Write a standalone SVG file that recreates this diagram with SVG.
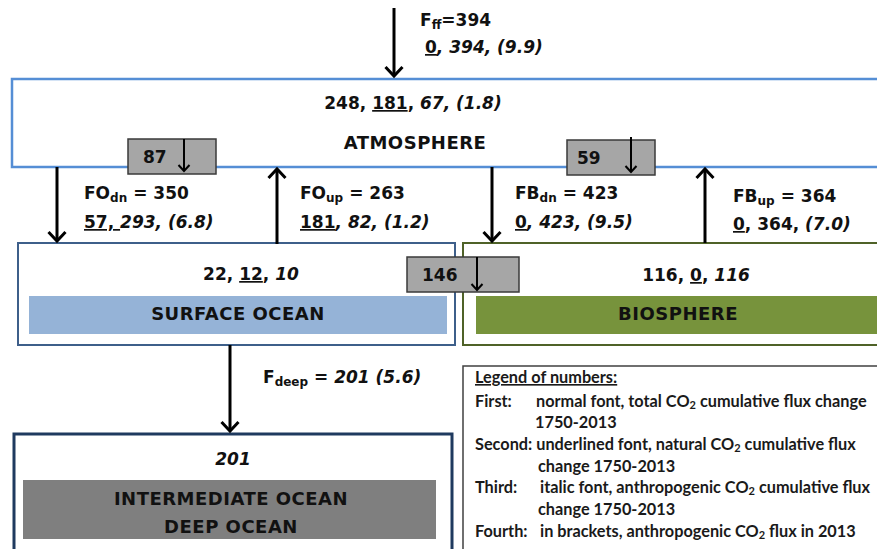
<svg xmlns="http://www.w3.org/2000/svg" width="877" height="549" viewBox="0 0 877 549">
<style>
.t{font-family:"DejaVu Sans",Verdana,sans-serif;font-weight:bold;font-size:17px;fill:#111}
.c{font-size:18px;letter-spacing:0.5px}
.i{font-style:italic}
.u{text-decoration:underline}
.s{font-size:12px}
.lg{font-family:Lato,"Open Sans",sans-serif;font-weight:bold;font-size:16.3px;fill:#1a1a1a}
.lg .s{font-size:11px}
.ar{stroke:#000;stroke-width:3;fill:none}
.ars{stroke:#000;stroke-width:2;fill:none}
.gb{fill:#A6A6A6;stroke:#3a3a3a;stroke-width:1.5}
</style>
<defs>
<marker id="ah" markerUnits="userSpaceOnUse" viewBox="0 0 14 20" markerWidth="14" markerHeight="20" refX="11" refY="10" orient="auto">
<path d="M2,1.5 L11,10 L2,18.5" fill="none" stroke="#000" stroke-width="3"/>
</marker>
<marker id="ahs" markerUnits="userSpaceOnUse" viewBox="0 0 10 14" markerWidth="10" markerHeight="14" refX="8" refY="7" orient="auto">
<path d="M2,1.5 L8,7 L2,12.5" fill="none" stroke="#000" stroke-width="2"/>
</marker>
</defs>

<g id="atmosphere">
<rect x="12" y="79" width="880" height="88" fill="#fff" stroke="#558ED5" stroke-width="2.5"/>
<text class="t" x="413" y="109" text-anchor="middle">248, <tspan class="u">181</tspan>, <tspan class="i">67, (1.8)</tspan></text>
<text class="t c" x="415" y="149" text-anchor="middle">ATMOSPHERE</text>
</g>

<g id="surface-ocean">
<rect x="18" y="243" width="437" height="102" fill="#fff" stroke="#3E5F8A" stroke-width="2"/>
<rect x="29" y="296" width="418" height="38" fill="#95B3D7"/>
<text class="t" x="251" y="280" text-anchor="middle">22, <tspan class="u">12</tspan>, <tspan class="i">10</tspan></text>
<text class="t c" x="238" y="320" text-anchor="middle">SURFACE OCEAN</text>
</g>

<g id="biosphere">
<rect x="463" y="243" width="430" height="102" fill="#fff" stroke="#4F6228" stroke-width="2"/>
<rect x="476" y="296" width="420" height="38" fill="#77933C"/>
<text class="t" x="696" y="281" text-anchor="middle">116, <tspan class="u">0</tspan>, <tspan class="i">116</tspan></text>
<text class="t c" x="678" y="320" text-anchor="middle">BIOSPHERE</text>
</g>

<g id="deep-ocean">
<rect x="14" y="434" width="438" height="130" fill="#fff" stroke="#1F3A5F" stroke-width="3"/>
<rect x="23" y="480" width="413" height="59" fill="#7F7F7F"/>
<text class="t i" x="233" y="465" text-anchor="middle">201</text>
<text class="t c" x="231" y="505" text-anchor="middle">INTERMEDIATE OCEAN</text>
<text class="t c" x="231" y="533" text-anchor="middle">DEEP OCEAN</text>
</g>

<g id="connectors">
<line class="ar" x1="394" y1="8" x2="394" y2="76" marker-end="url(#ah)"/>
<line class="ar" x1="57" y1="167" x2="57" y2="241" marker-end="url(#ah)"/>
<line class="ar" x1="277" y1="244" x2="277" y2="169" marker-end="url(#ah)"/>
<line class="ar" x1="492" y1="167" x2="492" y2="241" marker-end="url(#ah)"/>
<line class="ar" x1="705" y1="243" x2="705" y2="169" marker-end="url(#ah)"/>
<line class="ar" x1="230" y1="345" x2="230" y2="431" marker-end="url(#ah)"/>
</g>

<g id="flux-labels">
<text class="t" x="420" y="26">F<tspan class="s" dy="3">ff</tspan><tspan dy="-3">=394</tspan></text>
<text class="t" x="425" y="53"><tspan class="u">0</tspan><tspan class="i">, 394, (9.9)</tspan></text>
<text class="t" x="84" y="199">FO<tspan class="s" dy="3">dn</tspan><tspan dy="-3"> = 350</tspan></text>
<text class="t" x="84" y="228"><tspan class="u">57, </tspan><tspan class="i">293, (6.8)</tspan></text>
<text class="t" x="300" y="199">FO<tspan class="s" dy="3">up</tspan><tspan dy="-3"> = 263</tspan></text>
<text class="t" x="300" y="228"><tspan class="u">181</tspan><tspan class="i">, 82, (1.2)</tspan></text>
<text class="t" x="515" y="199">FB<tspan class="s" dy="3">dn</tspan><tspan dy="-3"> = 423</tspan></text>
<text class="t" x="515" y="228"><tspan class="u">0</tspan><tspan class="i">, 423, (9.5)</tspan></text>
<text class="t" x="733" y="202">FB<tspan class="s" dy="3">up</tspan><tspan dy="-3"> = 364</tspan></text>
<text class="t" x="733" y="230"><tspan class="u">0</tspan>, 364, <tspan class="i">(7.0)</tspan></text>
<text class="t" x="263" y="383">F<tspan class="s" dy="3">deep</tspan><tspan dy="-3"> = </tspan><tspan class="i">201 (5.6)</tspan></text>
</g>

<g id="box-87">
<rect class="gb" x="128" y="139" width="88" height="35"/>
<text class="t" x="143" y="163">87</text>
<line class="ars" x1="184" y1="139" x2="184" y2="171" marker-end="url(#ahs)"/>
</g>
<g id="box-59">
<rect class="gb" x="567" y="140" width="88" height="35"/>
<text class="t" x="577" y="164">59</text>
<line class="ars" x1="631" y1="137" x2="631" y2="172" marker-end="url(#ahs)"/>
</g>
<g id="box-146">
<rect class="gb" x="407" y="257" width="112" height="35"/>
<text class="t" x="422" y="281">146</text>
<line class="ars" x1="477" y1="257" x2="477" y2="290" marker-end="url(#ahs)"/>
</g>

<g id="legend">
<rect x="463" y="366" width="430" height="200" fill="#fff" stroke="#404040" stroke-width="1.5"/>
<text class="lg" x="475" y="383"><tspan class="u">Legend of numbers:</tspan></text>
<text class="lg" x="475" y="407">First:</text>
<text class="lg" x="536" y="407">normal font, total CO<tspan class="s" dy="2">2</tspan><tspan dy="-2"> cumulative flux change</tspan></text>
<text class="lg" x="535" y="428">1750-2013</text>
<text class="lg" x="475" y="450">Second: underlined font, natural CO<tspan class="s" dy="2">2</tspan><tspan dy="-2"> cumulative flux</tspan></text>
<text class="lg" x="538" y="472">change 1750-2013</text>
<text class="lg" x="475" y="493">Third:</text>
<text class="lg" x="540" y="493">italic font, anthropogenic CO<tspan class="s" dy="2">2</tspan><tspan dy="-2"> cumulative flux</tspan></text>
<text class="lg" x="538" y="515">change 1750-2013</text>
<text class="lg" x="475" y="537">Fourth:</text>
<text class="lg" x="540" y="537">in brackets, anthropogenic CO<tspan class="s" dy="2">2</tspan><tspan dy="-2"> flux in 2013</tspan></text>
</g>
</svg>
